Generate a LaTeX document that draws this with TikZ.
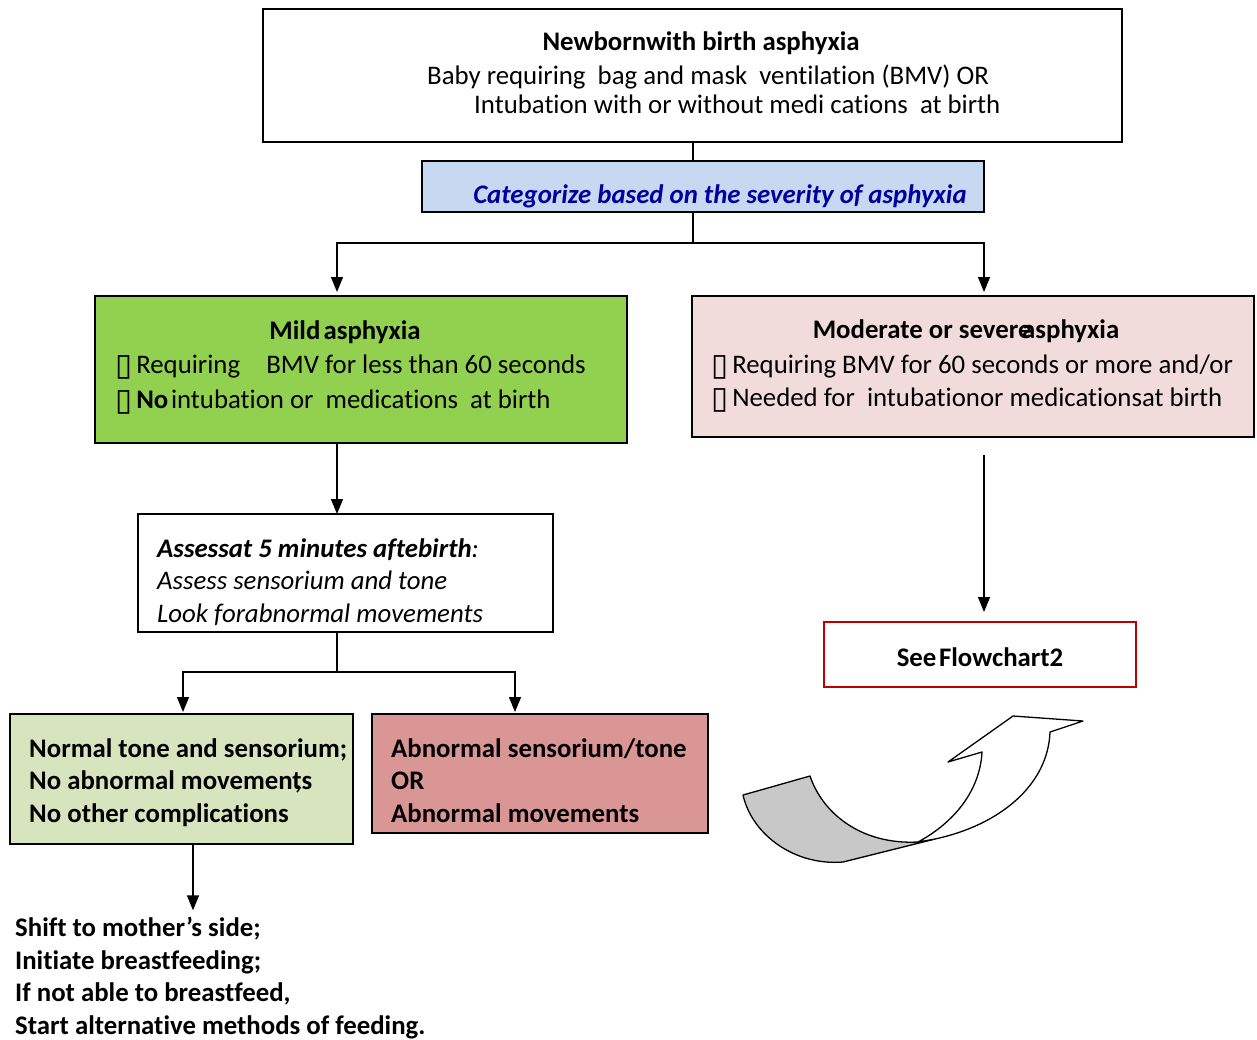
\documentclass[tikz,border=0pt]{standalone}
\usepackage{fontspec}
\setmainfont{Carlito}[Ligatures=NoCommon]
\newfontfamily\symfam{DejaVu Sans}
\usetikzlibrary{arrows.meta}
\definecolor{mildgreen}{HTML}{92D050}
\definecolor{modpink}{HTML}{F2DCDB}
\definecolor{okgreen}{HTML}{D7E4BD}
\definecolor{badred}{HTML}{D99694}
\definecolor{catblue}{HTML}{C6D9F1}
\definecolor{catink}{HTML}{00009F}
\definecolor{seered}{HTML}{C00000}
\definecolor{shade}{HTML}{C8C8C8}
\newcommand\bsize{\fontsize{26.8}{32.5}\selectfont}
\newcommand\tick{\kern-2pt\raisebox{-2pt}{\symfam\fontsize{31}{31}\selectfont ▯}\kern4pt}
\begin{document}
\begin{tikzpicture}[x=1pt,y=-1pt,
  box/.style={draw, line width=1.4pt, inner sep=0pt, outer sep=0pt, anchor=north west},
  ln/.style={inner sep=0pt, anchor=base west, font=\bsize},
  lnc/.style={inner sep=0pt, anchor=base, font=\bsize},
  conn/.style={line width=1.4pt},
  arr/.style={conn, -{Triangle[width=12pt,length=15pt]}},
  curl/.style={line width=1.3pt, line join=round}]
\useasboundingbox (0,0) rectangle (1257,1039);

% boxes
\node[box, minimum width=859pt, minimum height=133pt] (top) at (263,9) {};
\node[box, fill=catblue, minimum width=562pt, minimum height=51pt] (cat) at (422,161) {};
\node[box, fill=mildgreen, minimum width=532pt, minimum height=147pt] (mild) at (95,296) {};
\node[box, fill=modpink, minimum width=562pt, minimum height=141pt] (mod) at (692,296) {};
\node[box, minimum width=415pt, minimum height=118pt] (assess) at (138,514) {};
\node[box, fill=okgreen, minimum width=343pt, minimum height=130pt] (normal) at (10,714) {};
\node[box, fill=badred, minimum width=336pt, minimum height=119pt] (abn) at (372,714) {};
\node[box, draw=seered, minimum width=312pt, minimum height=65pt] (see) at (824,622) {};

% box texts
\node[lnc] (t1) at (701,50) {\textbf{Newbornwith birth asphyxia}};
\node[ln] (t2) at (427,84) {Baby requiring\ \ bag and mask\ \ ventilation (BMV) OR};
\node[ln] (t3) at (474,113) {Intubation with or without medi cations\ \ at birth};

\node[lnc, text=catink] (c1) at (720,203) {\textbf{\textit{Categorize based on the severity of asphyxia}}};

\node[lnc] (m1) at (345,339) {\textbf{Mild\kern0.12em asphyxia}};
\node[ln] (m2) at (117,373) {\tick Requiring\hspace{0.75em} BMV for less than 60 seconds};
\node[ln] (m3) at (117,408) {\tick\textbf{No}\kern0.1em intubation or\ \ medications\ \ at birth};

\node[lnc] (d1) at (966,338) {\textbf{Moderate or severe\kern-0.35em asphyxia}};
\node[ln] (d2) at (713,373) {\tick Requiring BMV for 60 seconds or more and/or};
\node[ln] (d3) at (713,406) {\tick Needed for\ \ intubationor medicationsat birth};

\node[ln] (a1) at (157,557) {\textbf{\textit{Assessat 5 minutes aftebirth}}\textit{:}};
\node[ln] (a2) at (157,589) {\textit{Assess sensorium and tone}};
\node[ln] (a3) at (157,622) {\textit{Look forabnormal movements}};

\node[ln] (n1) at (29,757) {\textbf{Normal tone and sensorium;}};
\node[ln] (n2) at (29,789) {\textbf{No abnormal movement\llap{,}s}};
\node[ln] (n3) at (29,822) {\textbf{No other complications}};

\node[ln] (b1) at (391,757) {\textbf{Abnormal sensorium/tone}};
\node[ln] (b2) at (391,789) {\textbf{OR}};
\node[ln] (b3) at (391,822) {\textbf{Abnormal movements}};

\node[ln] (s1) at (15,936) {\textbf{Shift to mother’s side;}};
\node[ln] (s2) at (15,969) {\textbf{Initiate breastfeeding;}};
\node[ln] (s3) at (15,1001) {\textbf{If not able to breastfeed,}};
\node[ln] (s4) at (15,1034) {\textbf{Start alternative methods of feeding.}};

\node[lnc] (f1) at (980,666) {\textbf{See\kern0.1em Flowchart2}};

% connectors
\coordinate (xa) at (337,0);
\coordinate (xb) at (984,0);
\coordinate (xc) at (183,0);
\coordinate (xd) at (515,0);
\coordinate (xe) at (193,0);
\coordinate (j1) at (693,243);
\coordinate (j2) at (337,672);
\coordinate (m0) at (984,455);

\draw[conn] (top.south -| j1) -- (cat.north -| j1);
\draw[conn] (cat.south -| j1) -- (j1);
\draw[arr, shorten >=4pt] (j1) -| (mild.north -| xa);
\draw[arr, shorten >=4pt] (j1) -| (mod.north -| xb);
\draw[arr] (mild.south -| xa) -- (assess.north -| xa);
\draw[conn] (assess.south -| xa) -- (j2);
\draw[arr, shorten >=2pt] (j2) -| (normal.north -| xc);
\draw[arr, shorten >=2pt] (j2) -| (abn.north -| xd);
\draw[arr, shorten >=6pt] (normal.south -| xe) -- (s1.north -| xe);
\draw[arr, shorten >=10pt] (m0) -- (see.north -| m0);

% curved block arrow: shaded underside, then the white body with its head
\draw[curl, fill=shade] (743,795) -- (810,776)
  .. controls (822,812) and (860,845) .. (918,842)
  -- (935,839) -- (843,862)
  .. controls (795,866) and (752,835) .. (743,795) -- cycle;
\draw[curl, fill=white] (918,842)
  .. controls (955,822) and (980,790) .. (982,752)
  -- (948,762) -- (1013,716) -- (1083,721) -- (1050,732)
  .. controls (1048,785) and (1000,825) .. (935,839) -- cycle;
\end{tikzpicture}
\end{document}
